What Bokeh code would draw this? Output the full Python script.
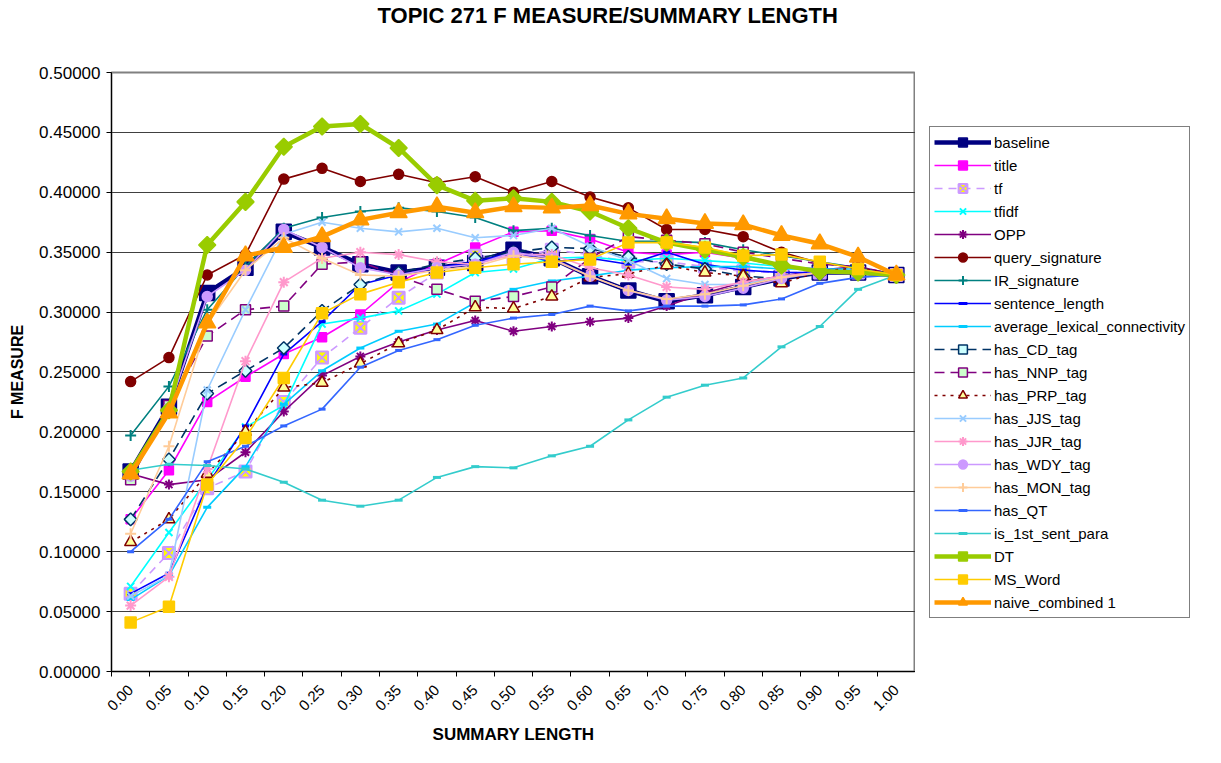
from math import pi
from bokeh.plotting import figure
from bokeh.layouts import row
from bokeh.models import FixedTicker, PrintfTickFormatter, Legend, LegendItem, Range1d
from bokeh.embed import file_html
from bokeh.resources import INLINE

x_labels = ["0.00", "0.05", "0.10", "0.15", "0.20", "0.25", "0.30", "0.35", "0.40", "0.45", "0.50",
            "0.55", "0.60", "0.65", "0.70", "0.75", "0.80", "0.85", "0.90", "0.95", "1.00"]

baseline = [0.167, 0.221, 0.316, 0.337, 0.367, 0.354, 0.340, 0.333, 0.337, 0.341, 0.352, 0.345, 0.330, 0.318, 0.309, 0.314, 0.321, 0.328, 0.333, 0.333, 0.331]
title = [0.127, 0.168, 0.225, 0.246, 0.265, 0.279, 0.298, 0.325, 0.340, 0.354, 0.367, 0.368, 0.361, 0.350, 0.348, 0.350, 0.345, 0.338, 0.336, 0.334, 0.331]
tf = [0.065, 0.099, 0.153, 0.167, 0.225, 0.262, 0.287, 0.312, 0.333, 0.347, 0.345, 0.352, 0.348, 0.342, 0.342, 0.338, 0.334, 0.333, 0.333, 0.333, 0.331]
tfidf = [0.071, 0.116, 0.160, 0.204, 0.222, 0.290, 0.295, 0.301, 0.315, 0.333, 0.336, 0.345, 0.346, 0.343, 0.345, 0.343, 0.341, 0.338, 0.336, 0.334, 0.331]
opp = [0.165, 0.156, 0.160, 0.183, 0.217, 0.247, 0.263, 0.275, 0.285, 0.293, 0.284, 0.288, 0.292, 0.295, 0.305, 0.316, 0.325, 0.330, 0.335, 0.338, 0.331]
query_signature = [0.242, 0.262, 0.331, 0.348, 0.411, 0.420, 0.409, 0.415, 0.408, 0.413, 0.400, 0.409, 0.396, 0.387, 0.369, 0.369, 0.363, 0.350, 0.341, 0.337, 0.331]
ir_signature = [0.197, 0.238, 0.302, 0.338, 0.370, 0.379, 0.384, 0.387, 0.384, 0.379, 0.368, 0.370, 0.364, 0.359, 0.359, 0.358, 0.352, 0.347, 0.342, 0.337, 0.331]
sentence_length = [0.065, 0.082, 0.155, 0.205, 0.265, 0.292, 0.323, 0.331, 0.337, 0.342, 0.350, 0.342, 0.345, 0.340, 0.350, 0.340, 0.335, 0.333, 0.333, 0.333, 0.331]
avg_lex_conn = [0.060, 0.080, 0.137, 0.171, 0.223, 0.251, 0.270, 0.284, 0.290, 0.308, 0.319, 0.326, 0.330, 0.335, 0.337, 0.338, 0.338, 0.336, 0.336, 0.336, 0.331]
has_cd = [0.127, 0.177, 0.232, 0.251, 0.270, 0.301, 0.323, 0.333, 0.340, 0.345, 0.350, 0.354, 0.353, 0.346, 0.340, 0.336, 0.330, 0.328, 0.332, 0.335, 0.331]
has_nnp = [0.160, 0.222, 0.280, 0.302, 0.305, 0.340, 0.342, 0.330, 0.319, 0.309, 0.313, 0.321, 0.345, 0.363, 0.360, 0.357, 0.350, 0.345, 0.340, 0.338, 0.331]
has_prp = [0.108, 0.127, 0.165, 0.200, 0.237, 0.241, 0.257, 0.274, 0.285, 0.304, 0.303, 0.313, 0.329, 0.332, 0.339, 0.333, 0.330, 0.324, 0.334, 0.337, 0.331]
has_jjs = [0.063, 0.080, 0.235, 0.302, 0.365, 0.375, 0.370, 0.367, 0.370, 0.362, 0.364, 0.370, 0.355, 0.343, 0.328, 0.323, 0.323, 0.330, 0.333, 0.335, 0.331]
has_jjr = [0.055, 0.079, 0.169, 0.259, 0.325, 0.345, 0.350, 0.348, 0.342, 0.340, 0.348, 0.348, 0.337, 0.331, 0.321, 0.319, 0.325, 0.330, 0.333, 0.335, 0.331]
has_wdy = [0.163, 0.220, 0.313, 0.335, 0.369, 0.354, 0.337, 0.331, 0.337, 0.340, 0.350, 0.345, 0.330, 0.318, 0.310, 0.313, 0.320, 0.328, 0.333, 0.333, 0.331]
has_mon = [0.115, 0.188, 0.290, 0.335, 0.362, 0.345, 0.331, 0.330, 0.335, 0.338, 0.347, 0.344, 0.330, 0.318, 0.311, 0.315, 0.322, 0.329, 0.333, 0.334, 0.331]
has_qt = [0.100, 0.127, 0.175, 0.188, 0.205, 0.219, 0.254, 0.268, 0.277, 0.289, 0.295, 0.298, 0.305, 0.301, 0.305, 0.305, 0.306, 0.311, 0.324, 0.329, 0.331]
is_1st_sent_para = [0.168, 0.173, 0.172, 0.169, 0.158, 0.143, 0.138, 0.143, 0.162, 0.171, 0.170, 0.180, 0.188, 0.210, 0.229, 0.239, 0.245, 0.271, 0.288, 0.319, 0.331]
dt = [0.167, 0.218, 0.356, 0.392, 0.438, 0.455, 0.457, 0.437, 0.406, 0.393, 0.395, 0.392, 0.384, 0.370, 0.358, 0.352, 0.346, 0.339, 0.334, 0.333, 0.331]
ms_word = [0.041, 0.054, 0.156, 0.195, 0.245, 0.299, 0.315, 0.325, 0.333, 0.337, 0.340, 0.342, 0.344, 0.358, 0.358, 0.354, 0.347, 0.348, 0.342, 0.336, 0.331]
naive_combined = [0.165, 0.216, 0.291, 0.347, 0.354, 0.363, 0.377, 0.383, 0.388, 0.383, 0.388, 0.387, 0.389, 0.382, 0.378, 0.374, 0.373, 0.364, 0.357, 0.346, 0.331]

y_ticks = [0.0, 0.05, 0.10, 0.15, 0.20, 0.25, 0.30, 0.35, 0.40, 0.45, 0.50]

# name, values, line colour, width, dash, marker, size, fill, marker line colour, marker angle
series = [
    ("baseline", baseline, "#000080", 4.5, "solid", "square", 15, "#000080", "#000080", 0),
    ("title", title, "#FF00FF", 1.6, "solid", "square", 9, "#FF00FF", "#FF00FF", 0),
    ("tf", tf, "#CC99FF", 1.6, "8 6", "square_x", 12, "#FFFF00", "#CC99FF", 0),
    ("tfidf", tfidf, "#00FFFF", 1.6, "solid", "x", 10, None, "#00FFFF", 0),
    ("OPP", opp, "#800080", 1.6, "solid", "asterisk", 10, None, "#800080", 0),
    ("query_signature", query_signature, "#800000", 1.6, "solid", "circle", 10, "#800000", "#800000", 0),
    ("IR_signature", ir_signature, "#008080", 1.6, "solid", "cross", 11, None, "#008080", 0),
    ("sentence_length", sentence_length, "#0000FF", 1.6, "solid", "dash", 7, None, "#0000FF", 0),
    ("average_lexical_connectivity", avg_lex_conn, "#00CCFF", 1.6, "solid", "dash", 8, None, "#00CCFF", 0),
    ("has_CD_tag", has_cd, "#003366", 1.6, "10 6", "square", 9, "#CCFFFF", "#003366", pi / 4),
    ("has_NNP_tag", has_nnp, "#800080", 1.6, "10 6", "square", 10, "#CCFFCC", "#800080", 0),
    ("has_PRP_tag", has_prp, "#800000", 1.6, "3 5", "triangle", 12, "#FFFF99", "#800000", 0),
    ("has_JJS_tag", has_jjs, "#99CCFF", 1.6, "solid", "x", 10, None, "#99CCFF", 0),
    ("has_JJR_tag", has_jjr, "#FF99CC", 1.6, "solid", "asterisk", 11, None, "#FF99CC", 0),
    ("has_WDY_tag", has_wdy, "#CC99FF", 1.6, "solid", "circle", 10, "#CC99FF", "#CC99FF", 0),
    ("has_MON_tag", has_mon, "#FFCC99", 1.6, "solid", "cross", 11, None, "#FFCC99", 0),
    ("has_QT", has_qt, "#3366FF", 1.6, "solid", "dash", 7, None, "#3366FF", 0),
    ("is_1st_sent_para", is_1st_sent_para, "#33CCCC", 1.6, "solid", "dash", 8, None, "#33CCCC", 0),
    ("DT", dt, "#99CC00", 4.5, "solid", "square", 12, "#99CC00", "#99CC00", pi / 4),
    ("MS_Word", ms_word, "#FFCC00", 1.6, "solid", "square", 11, "#FFCC00", "#FFCC00", 0),
    ("naive_combined 1", naive_combined, "#FF9900", 4.5, "solid", "triangle", 17, "#FF9900", "#FF9900", 0),
]

FONT = "Liberation Sans"
xs = list(range(len(x_labels)))

p = figure(width=915, height=747,
           x_range=Range1d(-0.5, len(x_labels) - 0.5), y_range=Range1d(0, 0.5),
           output_backend="svg", toolbar_location=None,
           min_border_left=111, min_border_top=69, min_border_right=0, min_border_bottom=76,
           background_fill_color="white", border_fill_color="white")

# title sits at the very top of the canvas: tight blank lines below it lift it up
p.title.text = "TOPIC 271 F MEASURE/SUMMARY LENGTH" + "\n " * 5
p.title.text_font = FONT
p.title.text_font_size = "22px"
p.title.text_font_style = "bold"
p.title.text_color = "black"
p.title.text_line_height = 0.36
p.title.align = "left"
p.title.offset = 266
p.title.vertical_align = "bottom"
p.title.standoff = 0

p.outline_line_color = "#808080"
p.outline_line_width = 2

# x axis
p.xaxis.ticker = FixedTicker(ticks=xs, minor_ticks=[i - 0.5 for i in range(len(x_labels) + 1)])
p.xaxis.major_label_overrides = {i: lab for i, lab in enumerate(x_labels)}
p.xaxis.major_label_orientation = pi / 4
p.xaxis.major_tick_out = 0
p.xaxis.major_tick_in = 0
p.xaxis.minor_tick_out = 5
p.xaxis.minor_tick_in = 0
p.xaxis.minor_tick_line_color = "black"
p.xaxis.axis_line_color = "black"
p.xaxis.major_label_text_font = FONT
p.xaxis.major_label_text_font_size = "15px"
p.xaxis.major_label_text_color = "black"
p.xaxis.major_label_standoff = 11
p.xaxis.axis_label = "SUMMARY LENGTH"
p.xaxis.axis_label_text_font = FONT
p.xaxis.axis_label_text_font_size = "17px"
p.xaxis.axis_label_text_font_style = "bold"
p.xaxis.axis_label_text_color = "black"
p.xaxis.axis_label_standoff = 7

# y axis
p.yaxis.ticker = FixedTicker(ticks=y_ticks)
p.yaxis.formatter = PrintfTickFormatter(format="%.5f")
p.yaxis.minor_tick_line_color = None
p.yaxis.major_tick_out = 5
p.yaxis.major_tick_in = 0
p.yaxis.axis_line_color = "black"
p.yaxis.major_label_text_font = FONT
p.yaxis.major_label_text_font_size = "17px"
p.yaxis.major_label_text_color = "black"
p.yaxis.major_label_standoff = 6
p.yaxis.axis_label = "F MEASURE"
p.yaxis.axis_label_text_font = FONT
p.yaxis.axis_label_text_font_size = "16px"
p.yaxis.axis_label_text_font_style = "bold"
p.yaxis.axis_label_text_color = "black"
p.yaxis.axis_label_standoff = 10

p.xgrid.grid_line_color = None
p.ygrid.grid_line_color = "#404040"
p.ygrid.grid_line_width = 1

# legend lives in a narrow companion figure to the right of the plot area;
# its renderers hold the same data but lie outside that figure's visible range
q = figure(width=290, height=747, x_range=Range1d(1000, 1001), y_range=Range1d(0, 0.5),
           output_backend="svg", toolbar_location=None,
           x_axis_type=None, y_axis_type=None,
           min_border_left=0, min_border_right=0, min_border_top=0, min_border_bottom=0,
           background_fill_color="white", border_fill_color="white")
q.outline_line_color = None
q.grid.visible = False

items = []
for name, vals, color, lw, dash, marker, size, fill, mline, ang in series:
    mlw = 2 if marker in ("x", "asterisk", "cross", "dash", "square_x") else 1.5
    if marker == "dash":
        mlw = 3
    p.line(xs, vals, line_color=color, line_width=lw, line_dash=dash)
    p.scatter(xs, vals, marker=marker, size=size, angle=ang,
              fill_color=fill, line_color=mline, line_width=mlw)
    k1 = q.line(xs, vals, line_color=color, line_width=lw, line_dash=dash)
    k2 = q.scatter(xs, vals, marker=marker, size=size, angle=ang,
                   fill_color=fill, line_color=mline, line_width=mlw)
    items.append(LegendItem(label=name, renderers=[k1, k2]))

legend = Legend(items=items, location=(14, 53))
legend.label_text_font = FONT
legend.label_text_font_size = "15px"
legend.label_text_color = "black"
legend.glyph_width = 57
legend.glyph_height = 22
legend.label_height = 22
legend.label_standoff = 3
legend.spacing = 1
legend.padding = 4
legend.margin = 0
legend.border_line_color = "black"
legend.border_line_width = 1
q.add_layout(legend)

layout = row(p, q)
open("out.html", "w").write(file_html(layout, INLINE))
